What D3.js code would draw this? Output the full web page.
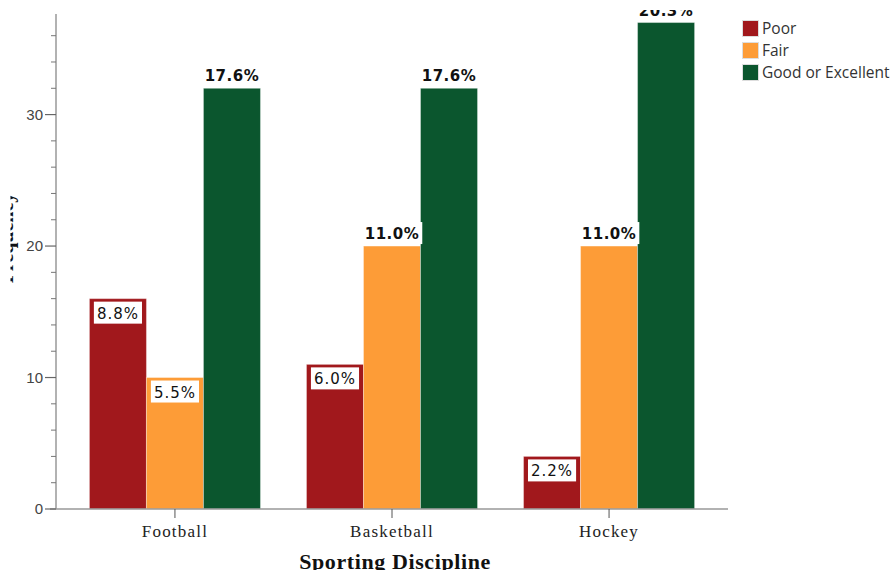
<!DOCTYPE html>
<html><head><meta charset="utf-8">
<script src="https://cdn.jsdelivr.net/npm/d3@7"></script>
<style>body{margin:0;background:#fff}svg{display:block}</style>
</head><body>
<svg id="c" width="892" height="570"></svg>
<script>
const categories = ["Football", "Basketball", "Hockey"];
const seriesNames = ["Poor", "Fair", "Good or Excellent"];
const poor = [16, 11, 4];
const fair = [10, 20, 20];
const good = [32, 32, 37];
const yTicks = [0, 10, 20, 30];
const colors = ["#a1181c", "#fd9c37", "#0b562e"];

const seriesValues = [poor, fair, good];
const total = d3.sum(seriesValues.flat());

const svg = d3.select("#c");
const x0 = d3.scaleBand().domain(categories).range([56, 728]).paddingInner(0.212).paddingOuter(0.154);
const x1 = d3.scaleBand().domain(seriesNames).range([0, x0.bandwidth()]);
const y = d3.scaleLinear().domain([0, 37.65]).range([509, 14]);

const defs = svg.append("defs");
defs.append("clipPath").attr("id", "topclip").append("rect").attr("x", 0).attr("y", 10).attr("width", 892).attr("height", 560);
defs.append("clipPath").attr("id", "leftclip").append("rect").attr("x", 10.5).attr("y", 0).attr("width", 892).attr("height", 570);

// bars
const data = [];
categories.forEach((c, i) => seriesNames.forEach((s, j) => data.push({c, s, j, v: seriesValues[j][i]})));
svg.append("g").selectAll("rect").data(data).join("rect")
  .attr("x", d => x0(d.c) + x1(d.s))
  .attr("y", d => y(d.v))
  .attr("width", x1.bandwidth())
  .attr("height", d => y(0) - y(d.v))
  .attr("fill", d => colors[d.j])
  .attr("stroke", "rgba(255,255,255,0.35)").attr("stroke-width", 1);

// axes
const ga = svg.append("g");
ga.append("line").attr("x1", 56).attr("x2", 56).attr("y1", 14).attr("y2", y(0)).attr("stroke", "#999").attr("stroke-width", 1.5);
ga.append("line").attr("x1", 50).attr("x2", 728).attr("y1", y(0)).attr("y2", y(0)).attr("stroke", "#999").attr("stroke-width", 1.5);
const minor = d3.range(0, 38, 2).filter(v => !yTicks.includes(v));
ga.selectAll(".mn").data(minor).join("line")
  .attr("x1", 51).attr("x2", 56).attr("y1", d => y(d)).attr("y2", d => y(d)).attr("stroke", "#777");
ga.selectAll(".mj").data(yTicks).join("line")
  .attr("x1", 45).attr("x2", 56).attr("y1", d => y(d)).attr("y2", d => y(d)).attr("stroke", "#666").attr("stroke-width", 1.2);
ga.selectAll(".yl").data(yTicks).join("text")
  .attr("x", 43).attr("y", d => y(d) + 5).attr("text-anchor", "end")
  .attr("font-family", "Liberation Sans, Arial, sans-serif").attr("font-size", 15).attr("fill", "#444")
  .text(d => d);
ga.selectAll(".xt").data(categories).join("line")
  .attr("x1", d => x0(d) + x0.bandwidth() / 2).attr("x2", d => x0(d) + x0.bandwidth() / 2)
  .attr("y1", y(0)).attr("y2", y(0) + 9).attr("stroke", "#555");
ga.selectAll(".xl").data(categories).join("text")
  .attr("x", d => x0(d) + x0.bandwidth() / 2).attr("y", 537).attr("text-anchor", "middle")
  .attr("font-family", "Liberation Serif, serif").attr("font-size", 17).attr("letter-spacing", 1.2).attr("fill", "#222")
  .text(d => d);

// titles
svg.append("text").attr("x", 395).attr("y", 569).attr("text-anchor", "middle")
  .attr("font-family", "Liberation Serif, serif").attr("font-weight", "bold").attr("font-size", 22).attr("letter-spacing", 0.6).attr("fill", "#111")
  .text("Sporting Discipline");
svg.append("g").attr("clip-path", "url(#leftclip)").append("text")
  .attr("transform", "translate(12.5,238) rotate(-90)").attr("text-anchor", "middle")
  .attr("font-family", "Liberation Serif, serif").attr("font-weight", "bold").attr("font-size", 20).attr("fill", "#111")
  .text("Frequency");

// labels
const lg = svg.append("g").attr("clip-path", "url(#topclip)");
data.forEach(d => {
  const cx = x0(d.c) + x1(d.s) + x1.bandwidth() / 2;
  const above = d.v >= 20;
  const txt = (d.v / total * 100).toFixed(1) + "%";
  const base = above ? y(d.v) - 7 : y(d.v) + 20;
  const g = lg.append("g");
  const t = g.append("text").attr("x", cx).attr("y", base).attr("text-anchor", "middle")
    .attr("font-family", "DejaVu Sans, sans-serif").attr("font-size", 15)
    .attr("font-weight", above ? "bold" : "normal").attr("letter-spacing", above ? 0.5 : 1)
    .attr("fill", "#111").text(txt);
  const bb = t.node().getBBox();
  g.insert("rect", "text").attr("x", bb.x - 3).attr("y", base - 17).attr("width", bb.width + 6).attr("height", 22).attr("fill", "#fff");
});

// legend
const leg = svg.append("g");
seriesNames.forEach((s, i) => {
  leg.append("rect").attr("x", 742.5).attr("y", 20.5 + i * 22).attr("width", 16).attr("height", 16)
    .attr("fill", colors[i]).attr("stroke", "#ddd").attr("stroke-width", 1);
  leg.append("text").attr("x", 762).attr("y", 34 + i * 22)
    .attr("font-family", "Open Sans, sans-serif").attr("font-size", 15.5).attr("fill", "#333").text(s);
});
</script>
</body></html>
